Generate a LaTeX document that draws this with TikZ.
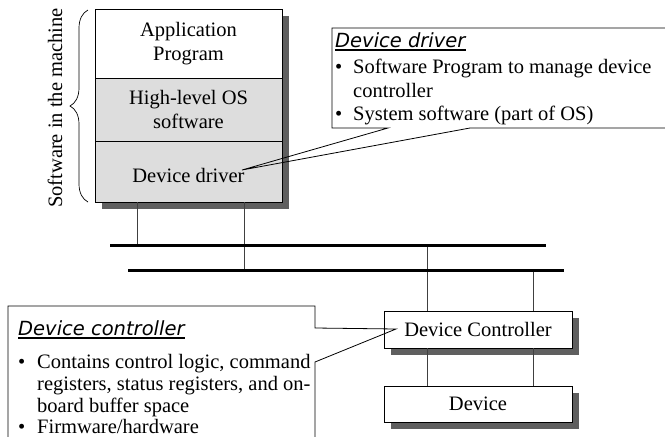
\documentclass[tikz,border=0pt]{standalone}
\usepackage{fontspec}
\setmainfont{Liberation Serif}
\newfontfamily\calloutfont{DejaVu Sans Oblique}
\usetikzlibrary{decorations.pathreplacing}
\definecolor{layergray}{HTML}{DDDDDD}
\definecolor{shadowgray}{HTML}{5F5F5F}
\definecolor{wiregray}{HTML}{404040}
\tikzset{
  body/.style={font=\fontsize{20.5}{24}\selectfont},
  layer/.style={draw, line width=0.8pt, minimum width=187pt, inner sep=0pt, align=center, body},
  devbox/.style={draw, fill=white, line width=0.8pt, minimum width=188pt, inner sep=0pt, body},
  shadowbox/.style={fill=shadowgray, draw=none},
  bus/.style={line width=3pt},
  wire/.style={line width=0.9pt, draw=wiregray},
  callout/.style={line width=0.8pt},
  ctitle/.style={font=\calloutfont\fontsize{19.5}{22}\selectfont, anchor=base west, inner sep=0pt},
  ctext/.style={anchor=base west, inner sep=0pt, font=\fontsize{20.5}{24}\selectfont},
}
\begin{document}
\begin{tikzpicture}[x=1pt,y=-1pt]
\useasboundingbox (0,0) rectangle (665,437);
\clip (0,0) rectangle (665,437);

% bus coordinates
\coordinate (b1w) at (110,245);
\coordinate (b1e) at (546,245);
\coordinate (b2w) at (128,270);
\coordinate (b2e) at (564,270);

% software stack
\fill[shadowbox] (101.5,15.5) rectangle (288.5,208.5);
\node[layer, fill=white, minimum height=69pt] (app) at (188.5,43.5) {Application\\Program};
\node[layer, fill=layergray, minimum height=63pt] (hl) at (188.5,109.5) {High-level OS\\software};
\node[layer, fill=layergray, minimum height=61pt, text height=25pt, text depth=4pt] (dd) at (188.5,171.5) {Device driver};

% brace and label
\draw[line width=0.7pt, decorate, decoration={brace, amplitude=18pt}] (88,202) -- (88,10);
\node[rotate=90, anchor=base, inner sep=0pt, body] (swlabel) at (62,108) {Software in the machine};

% device boxes
\fill[shadowbox] (391,318) rectangle (579,355);
\node[devbox, minimum height=37pt] (dc) at (478,329.5) {Device Controller};
\fill[shadowbox] (391,393) rectangle (579,429);
\node[devbox, minimum height=36pt] (dev) at (478,404) {Device};

% wires
\draw[wire] ([xshift=43pt]dd.south west) -- ([xshift=43pt]dd.south west |- b1w);
\draw[wire] ([xshift=150pt]dd.south west) -- ([xshift=150pt]dd.south west |- b2w);
\draw[wire] ([xshift=44pt]dc.north west) -- ([xshift=44pt]dc.north west |- b1w);
\draw[wire] ([xshift=150pt]dc.north west) -- ([xshift=150pt]dc.north west |- b2w);
\draw[wire] ([xshift=44pt]dc.south west) -- ([xshift=44pt]dev.north west);
\draw[wire] ([xshift=150pt]dc.south west) -- ([xshift=150pt]dev.north west);

% buses
\draw[bus] (b1w) -- (b1e);
\draw[bus] (b2w) -- (b2e);

% device driver callout
\coordinate (ddtip) at (242,170);
\fill[white] (332,28) rectangle (680,128);
\draw[callout] (388,128) -- (ddtip) -- (470,128) -- (680,128) -- (680,28) -- (332,28) -- (332,128) -- cycle;
\node[ctitle] (ddtitle) at (335,47) {Device driver};
\draw[line width=1.5pt] ([yshift=-3pt]ddtitle.base west) -- ([yshift=-3pt]ddtitle.base east);
\node[ctext] (ddb1) at (335,73) {\textbullet};
\node[ctext] (ddl1) at (353,73) {Software Program to manage device};
\node[ctext] (ddl2) at (353,97) {controller};
\node[ctext] (ddb2) at (335,120) {\textbullet};
\node[ctext] (ddl3) at (353,120) {System software (part of OS)};

% device controller callout
\coordinate (dctip) at (396,329);
\fill[white] (8,306) rectangle (315,450);
\draw[callout] (315,362) -- (dctip) -- (315,328) -- (315,306) -- (8,306) -- (8,450) -- (315,450) -- cycle;
\node[ctitle] (dctitle) at (18,335) {Device controller};
\draw[line width=1.5pt] ([yshift=-3pt]dctitle.base west) -- ([yshift=-3pt]dctitle.base east);
\node[ctext] (dcb1) at (18,368) {\textbullet};
\node[ctext] (dcl1) at (37,368) {Contains control logic, command};
\node[ctext] (dcl2) at (37,390) {registers, status registers, and on-};
\node[ctext] (dcl3) at (37,412) {board buffer space};
\node[ctext] (dcb2) at (18,433) {\textbullet};
\node[ctext] (dcl4) at (37,433) {Firmware/hardware};
\end{tikzpicture}
\end{document}
